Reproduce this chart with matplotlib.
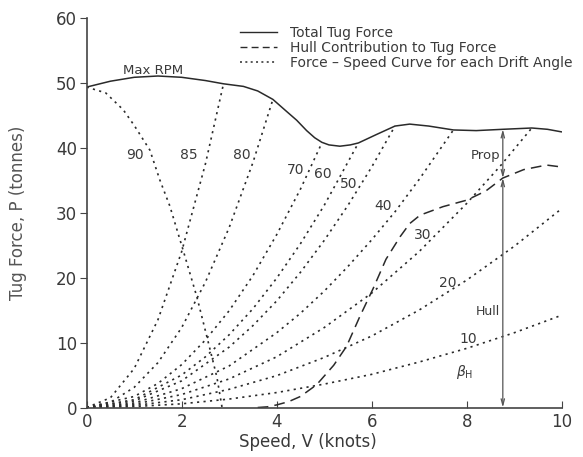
import matplotlib
matplotlib.use("Agg")
import matplotlib.pyplot as plt
from matplotlib.lines import Line2D

# ---- data ----
total_x = [0, 0.5, 1.0, 1.5, 2.0, 2.5, 2.88, 3.3, 3.6, 3.92, 4.2, 4.42, 4.63, 4.8, 4.95,
           5.1, 5.33, 5.55, 5.72, 6.1, 6.49, 6.8, 7.2, 7.72, 8.2, 8.76, 9.37, 9.7, 10.0]
total_y = [49.3, 50.2, 50.8, 51.0, 50.8, 50.3, 49.8, 49.4, 48.7, 47.4, 45.6, 44.2, 42.6, 41.5, 40.8,
           40.4, 40.2, 40.4, 40.7, 42.0, 43.3, 43.6, 43.3, 42.7, 42.6, 42.8, 43.0, 42.8, 42.4]

hull_x = [3.6, 3.8, 4.0, 4.25, 4.5, 4.84, 5.2, 5.47, 5.75, 6.03, 6.3, 6.6, 6.8, 7.02, 7.5,
          8.0, 8.4, 8.76, 9.2, 9.68, 10.0]
hull_y = [0.0, 0.1, 0.4, 0.9, 1.7, 3.5, 6.5, 9.4, 14.0, 18.3, 22.8, 26.3, 28.3, 29.6, 30.9,
          31.9, 33.3, 35.3, 36.6, 37.3, 37.0]

drift_90_x = [0, 0.4, 0.77, 1.0, 1.33, 1.54, 1.75, 2.03, 2.32, 2.53, 2.74, 2.85]
drift_90_y = [49.3, 48.4, 45.8, 43.4, 39.6, 35.0, 31.0, 24.2, 17.0, 10.9, 4.7, 0.0]

drift_85_x = [0, 0.5, 1.0, 1.5, 2.0, 2.5, 2.88]
drift_85_y = [0, 1.5, 6.0, 13.5, 24.0, 37.5, 49.8]

drift_80_x = [0, 0.5, 1.0, 1.5, 2.0, 2.5, 3.0, 3.5, 3.92]
drift_80_y = [0, 0.8, 3.1, 6.9, 12.3, 19.3, 27.7, 37.7, 47.4]

drift_70_x = [0, 1.0, 1.5, 2.0, 2.5, 3.0, 3.5, 4.0, 4.5, 4.95]
drift_70_y = [0, 1.7, 3.7, 6.6, 10.4, 14.9, 20.3, 26.6, 33.6, 40.7]

drift_60_x = [0, 1.0, 2.0, 2.5, 3.0, 3.5, 4.0, 4.5, 5.0, 5.72]
drift_60_y = [0, 1.2, 5.0, 7.8, 11.2, 15.2, 19.9, 25.2, 31.1, 40.7]

drift_50_x = [0, 1.0, 2.0, 3.0, 3.5, 4.0, 4.5, 5.0, 5.5, 6.0, 6.49]
drift_50_y = [0, 1.0, 4.1, 9.3, 12.6, 16.4, 20.8, 25.7, 31.1, 37.0, 43.3]

drift_40_x = [0, 1.0, 2.0, 3.0, 4.0, 4.5, 5.0, 5.5, 6.0, 6.5, 7.0, 7.72]
drift_40_y = [0, 0.7, 2.9, 6.4, 11.5, 14.5, 17.9, 21.7, 25.8, 30.2, 35.1, 42.7]

drift_30_x = [0, 1, 2, 3, 4, 5, 6, 7, 8, 8.7, 9.37]
drift_30_y = [0, 0.5, 2.0, 4.4, 7.8, 12.3, 17.6, 24.0, 31.4, 37.1, 43.0]

drift_20_x = [0, 1, 2, 3, 4, 5, 6, 7, 8, 9, 10]
drift_20_y = [0, 0.3, 1.2, 2.8, 4.9, 7.7, 11.0, 15.0, 19.6, 24.8, 30.6]

drift_10_x = [0, 1, 2, 3, 4, 5, 6, 7, 8, 9, 10]
drift_10_y = [0, 0.14, 0.57, 1.3, 2.3, 3.6, 5.1, 7.0, 9.1, 11.5, 14.2]

angle_labels = ["90", "85", "80", "70", "60", "50", "40", "30", "20", "10"]
angle_label_x = [1.02, 2.14, 3.26, 4.39, 4.98, 5.52, 6.24, 7.07, 7.61, 8.03]
angle_label_y = [38.8, 38.8, 38.8, 36.6, 36.0, 34.4, 31.0, 26.5, 19.1, 10.6]

arrow_x = 8.76
arrow_hull_top = 35.3
arrow_prop_top = 42.8

x_ticks = [0, 2, 4, 6, 8, 10]
y_ticks = [0, 10, 20, 30, 40, 50, 60]

legend_labels = ["Total Tug Force", "Hull Contribution to Tug Force",
                 "Force \u2013 Speed Curve for each Drift Angle"]

# ---- drawing ----
line_col = "#2a2a2a"
text_col = "#3a3a3a"
dot_style = (0, (1.3, 2.6))
dash_style = (0, (7, 4))

fig = plt.figure(figsize=(5.83, 4.57), dpi=100)
ax = fig.add_axes([0.1487, 0.1083, 0.8148, 0.8534])

drifts = [(drift_90_x, drift_90_y), (drift_85_x, drift_85_y), (drift_80_x, drift_80_y),
          (drift_70_x, drift_70_y), (drift_60_x, drift_60_y), (drift_50_x, drift_50_y),
          (drift_40_x, drift_40_y), (drift_30_x, drift_30_y), (drift_20_x, drift_20_y),
          (drift_10_x, drift_10_y)]
for dx, dy in drifts:
    ax.plot(dx, dy, color=line_col, lw=1.2, linestyle=dot_style)

ax.plot(total_x, total_y, color=line_col, lw=1.1, solid_capstyle="round")
ax.plot(hull_x, hull_y, color=line_col, lw=1.1, linestyle=dash_style)

for lab, lx, ly in zip(angle_labels, angle_label_x, angle_label_y):
    ax.text(lx, ly, lab, fontsize=10, color=text_col, ha="center", va="center")

ax.text(1.4, 51.9, "Max RPM", fontsize=9.5, color=text_col, ha="center", va="center")
ax.text(8.71, 38.8, "Prop", fontsize=9.5, color=text_col, ha="right", va="center")
ax.text(8.71, 14.7, "Hull", fontsize=9, color=text_col, ha="right", va="center")
ax.text(7.96, 5.5, r"$\beta_{\mathrm{H}}$", fontsize=10, color=text_col, ha="center", va="center")

arrow_props = dict(arrowstyle="<->,head_length=0.45,head_width=0.12", color="#555555",
                   lw=0.9, shrinkA=0, shrinkB=0)
ax.annotate("", xy=(arrow_x, arrow_hull_top), xytext=(arrow_x, 0), arrowprops=arrow_props)
ax.annotate("", xy=(arrow_x, arrow_prop_top), xytext=(arrow_x, arrow_hull_top), arrowprops=arrow_props)

ax.set_xlim(0, 10)
ax.set_ylim(0, 60)
ax.set_xticks(x_ticks)
ax.set_yticks(y_ticks)
ax.spines["top"].set_visible(False)
ax.spines["right"].set_visible(False)
for s in ["left", "bottom"]:
    ax.spines[s].set_color("#444444")
    ax.spines[s].set_linewidth(1.2)
ax.tick_params(axis="x", direction="in", length=5, labelsize=12, labelcolor=text_col,
               color="#444444", pad=4)
ax.tick_params(axis="y", direction="out", length=5, labelsize=12, labelcolor=text_col,
               color="#444444", pad=2)

ax.set_xlabel("Speed, V (knots)", fontsize=12, color=text_col)
ax.xaxis.set_label_coords(0.466, -0.066)
ax.set_ylabel("Tug Force, P (tonnes)", fontsize=12, color="#555555")
ax.yaxis.set_label_coords(-0.125, 0.5)

handles = [Line2D([], [], color=line_col, lw=1.0),
           Line2D([], [], color=line_col, lw=1.0, linestyle=(0, (5, 3))),
           Line2D([], [], color=line_col, lw=1.1, linestyle=(0, (1.3, 2.2)))]
leg = ax.legend(handles, legend_labels, loc="upper left",
                bbox_to_anchor=(0.305, 1.0), frameon=False, fontsize=10,
                handlelength=2.7, handletextpad=0.9, labelspacing=0.08,
                borderaxespad=0.2)
for t in leg.get_texts():
    t.set_color(text_col)

fig.savefig("out.png", dpi=100)
